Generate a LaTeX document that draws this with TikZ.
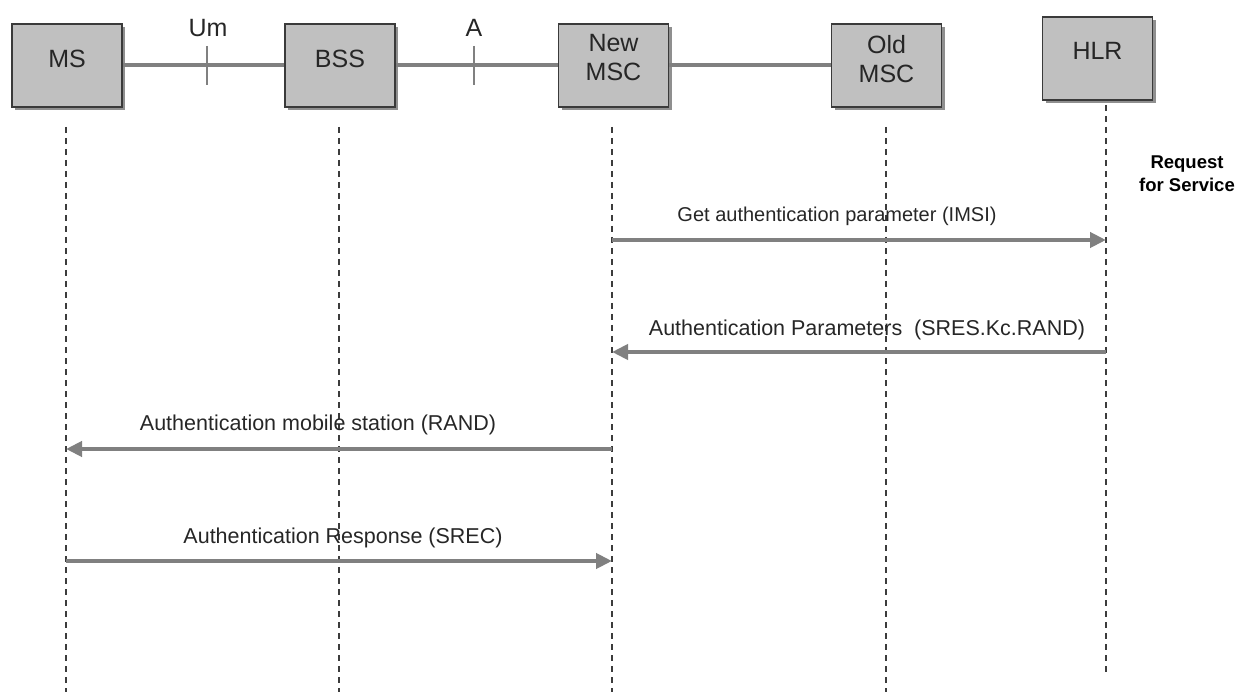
\documentclass[tikz,border=0pt]{standalone}
\usepackage{fontspec}
\setmainfont{Liberation Sans}
\usetikzlibrary{arrows.meta,shadows}

\definecolor{boxfill}{HTML}{C0C0C0}
\definecolor{boxline}{HTML}{3A3A3A}
\definecolor{linkgray}{HTML}{808080}
\definecolor{lifegray}{HTML}{3C3C3C}

\tikzset{
  entity/.style={draw=boxline, line width=1.5pt, fill=boxfill,
    minimum width=110pt, minimum height=83pt, inner sep=0pt,
    drop shadow={shadow xshift=3pt, shadow yshift=-3pt, fill=black!55, opacity=0.8}},
  entitytext/.style={align=center, font=\fontsize{25}{29}\selectfont, text=black!85, inner sep=0pt},
  link/.style={draw=linkgray, line width=4pt},
  tick/.style={draw=linkgray, line width=1.5pt},
  iflabel/.style={font=\fontsize{25}{28}\selectfont, text=black!85, inner sep=0pt},
  lifeline/.style={draw=lifegray, line width=1.5pt, dash pattern=on 6pt off 5pt},
  msg/.style={draw=linkgray, line width=4pt, -{Triangle[length=16pt,width=15pt]}},
  msglabel/.style={font=\fontsize{21.5}{24}\selectfont, text=black!85, inner sep=0pt, anchor=base}
}

\begin{document}
\begin{tikzpicture}[x=1pt,y=-1pt]
\useasboundingbox (0,0) rectangle (1252,692);

% entity boxes
\node[entity] (ms)  at (67,65.5)   {};
\node[entity] (bss) at (340,65.5)  {};
\node[entity] (nmsc) at (613.5,65.5) {};
\node[entity] (omsc) at (886.5,65.5) {};
\node[entity] (hlr) at (1097.5,58.5) {};

\node[entitytext] (msT)   at (67,59)    {MS};
\node[entitytext] (bssT)  at (340,59)   {BSS};
\node[entitytext] (nmscT) at (613.5,58) {New\\MSC};
\node[entitytext] (omscT) at (886.5,59) {Old\\MSC};
\node[entitytext] (hlrT)  at (1097.5,51) {HLR};

% interface links
\draw[link] (ms.east) -- (bss.west);
\draw[link] (bss.east) -- (nmsc.west);
\draw[link] (nmsc.east) -- (omsc.west);

\coordinate (umTop) at (207,46);
\coordinate (umBot) at (207,85);
\draw[tick] (umTop) -- (umBot);
\node[iflabel] (um) at (208,28) {Um};
\coordinate (aTop) at (474,46);
\coordinate (aBot) at (474,85);
\draw[tick] (aTop) -- (aBot);
\node[iflabel] (a) at (474,28) {A};

% lifelines
\coordinate (msEnd)   at (66,692);
\coordinate (bssEnd)  at (339,692);
\coordinate (nmscEnd) at (612,692);
\coordinate (omscEnd) at (886,692);
\coordinate (hlrEnd)  at (1106,674);
\coordinate (msTop)   at (66,127);
\coordinate (bssTop)  at (339,127);
\coordinate (nmscTop) at (612,127);
\coordinate (omscTop) at (886,127);
\coordinate (hlrTop)  at (1106,105);
\draw[lifeline] (msTop) -- (msEnd);
\draw[lifeline] (bssTop) -- (bssEnd);
\draw[lifeline] (nmscTop) -- (nmscEnd);
\draw[lifeline] (omscTop) -- (omscEnd);
\draw[lifeline] (hlrTop) -- (hlrEnd);

\node[font=\bfseries\fontsize{18.5}{23}\selectfont, align=center, inner sep=0pt] (req) at (1187,174) {Request\\for Service};

% messages
\coordinate (m1a) at (612,240);  \coordinate (m1b) at (1106,240);
\coordinate (m2a) at (1106,352); \coordinate (m2b) at (612,352);
\coordinate (m3a) at (612,449);  \coordinate (m3b) at (66,449);
\coordinate (m4a) at (66,561);   \coordinate (m4b) at (612,561);

\draw[msg] (m1a) -- (m1b);
\draw[msg] (m2a) -- (m2b);
\draw[msg] (m3a) -- (m3b);
\draw[msg] (m4a) -- (m4b);

\node[msglabel, font=\fontsize{20}{24}\selectfont] (l1) at (837,222) {Get authentication parameter (IMSI)};
\node[msglabel] (l2) at (867,335) {Authentication Parameters\ \ (SRES.Kc.RAND)};
\node[msglabel] (l3) at (318,430) {Authentication mobile station (RAND)};
\node[msglabel] (l4) at (343,543) {Authentication Response (SREC)};
\end{tikzpicture}
\end{document}
